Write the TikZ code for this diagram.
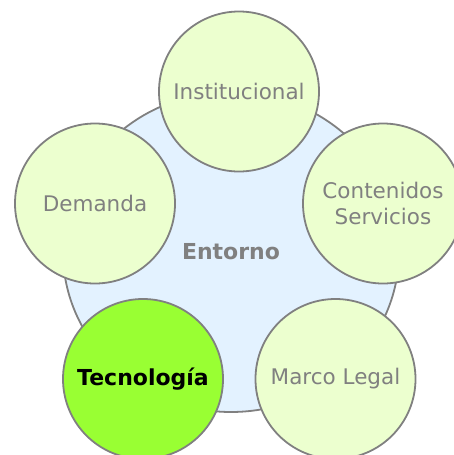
\documentclass[tikz,border=0pt]{standalone}
\usepackage{fontspec}
\setmainfont{DejaVu Sans}

\definecolor{entornoColor}{RGB}{227,242,255}
\definecolor{factorColor}{RGB}{236,255,207}
\definecolor{tecnoColor}{RGB}{153,255,51}
\definecolor{lineColor}{RGB}{128,128,128}

\tikzset{
  factor/.style={circle, draw=lineColor, line width=1.8pt, fill=factorColor,
    minimum size=160pt, inner sep=0pt, align=center, text=lineColor,
    font=\fontsize{21.5}{26}\selectfont}
}

\begin{document}
\begin{tikzpicture}[x=1pt,y=-1pt]
  \useasboundingbox (0,0) rectangle (453,455);
  % Entorno
  \draw[draw=lineColor, line width=1.8pt, fill=entornoColor] (231,252) ellipse (168 and 160);
  \node[text=lineColor, font=\fontsize{22}{26}\selectfont\bfseries] (entorno) at (231,252) {Entorno};
  % Factores
  \node[factor] (institucional) at (239,91.5) {Institucional};
  \node[factor] (contenidos) at (383,203.5) {Contenidos\\Servicios};
  \node[factor] (marco) at (335.5,379) {Marco Legal};
  \node[factor, fill=tecnoColor, text=black, font=\fontsize{22}{26}\selectfont\bfseries] (tecnologia) at (143,379) {Tecnología};
  \node[factor] (demanda) at (95,203.5) {Demanda};
\end{tikzpicture}
\end{document}
